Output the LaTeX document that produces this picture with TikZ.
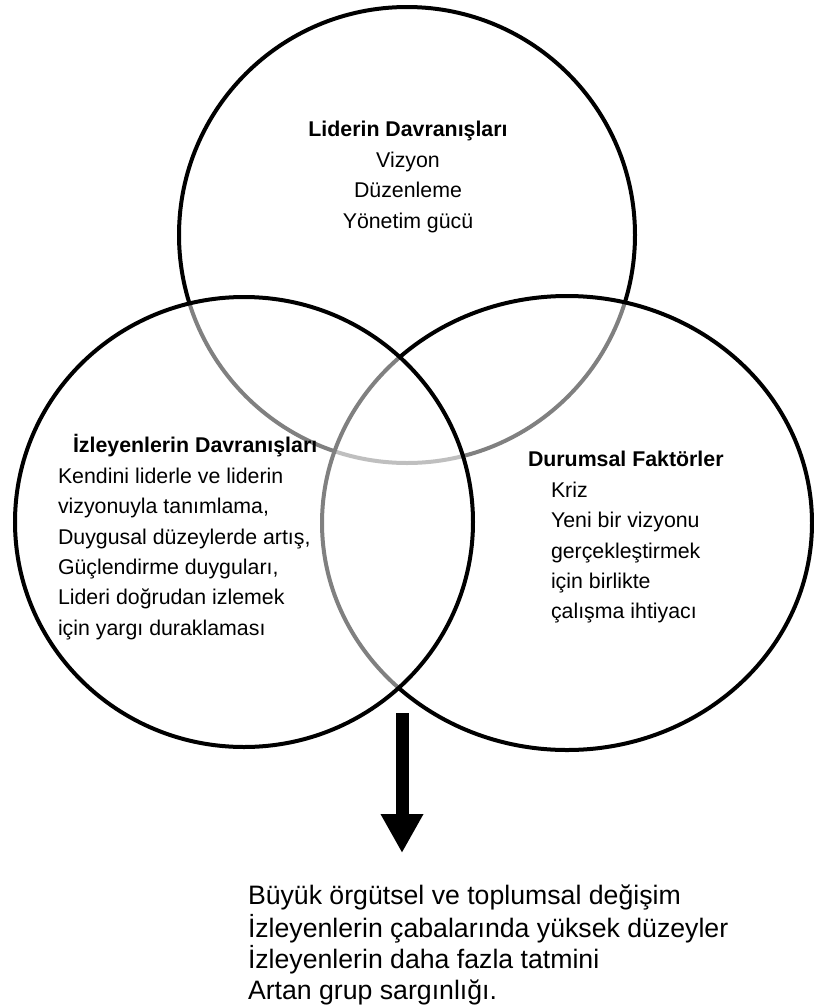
\documentclass[tikz,border=0pt]{standalone}
\usepackage{fontspec}
\setmainfont{Liberation Sans}
\usetikzlibrary{arrows.meta}
\begin{document}
\begin{tikzpicture}[x=0.75pt,y=-0.75pt,
  venn/.style={draw=black, line width=3pt, fill=white, fill opacity=0.5},
  blocktext/.style={inner sep=0pt, outer sep=0pt, text=black, font=\fontsize{16}{22.8}\selectfont},
  resulttext/.style={inner sep=0pt, outer sep=0pt, text=black, align=left, font=\fontsize{20}{23.25}\selectfont},
  bigarrow/.style={line width=9.75pt, -{Triangle[width=30pt,length=29.25pt]}}]
\useasboundingbox (0,0) rectangle (814,1007);
\fill[white] (0,0) rectangle (814,1007);
% circles (order: top, right, left)
\draw[venn] (407,235) ellipse [x radius=228, y radius=228];
\draw[venn] (567,523) ellipse [x radius=245, y radius=227];
\draw[venn] (244,522) ellipse [x radius=229, y radius=225];
% texts
\node[blocktext, align=center, anchor=north] (lider) at (408,115.7)
  {\strut\textbf{Liderin Davranışları}\\Vizyon\\Düzenleme\\Yönetim gücü};
\node[blocktext, align=left, anchor=north west] (izleyen) at (58,431.7)
  {\strut\hspace*{11.25pt}\textbf{İzleyenlerin Davranışları}\\Kendini liderle ve liderin\\vizyonuyla tanımlama,\\Duygusal düzeylerde artış,\\Güçlendirme duyguları,\\Lideri doğrudan izlemek\\için yargı duraklaması};
\node[blocktext, align=left, anchor=north west] (durum) at (528,445.7)
  {\strut\textbf{Durumsal Faktörler}\\\hspace*{17.25pt}Kriz\\\hspace*{17.25pt}Yeni bir vizyonu\\\hspace*{17.25pt}gerçekleştirmek\\\hspace*{17.25pt}için birlikte\\\hspace*{17.25pt}çalışma ihtiyacı};
\node[resulttext, anchor=north west] (sonuc) at (248,882.3)
  {\strut Büyük örgütsel ve toplumsal değişim\\İzleyenlerin çabalarında yüksek düzeyler\\İzleyenlerin daha fazla tatmini\\Artan grup sargınlığı.};
% arrow
\coordinate (arrowtop) at (402,713);
\coordinate (arrowtip) at (402,853);
\draw[bigarrow] (arrowtop) -- (arrowtip);
\end{tikzpicture}
\end{document}
